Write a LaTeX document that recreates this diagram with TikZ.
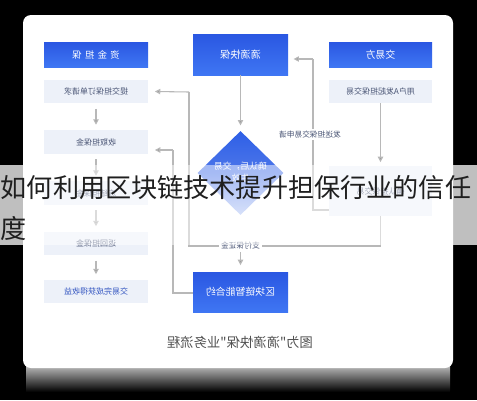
\documentclass[tikz,border=0pt]{standalone}
\usepackage{fontspec}
\usepackage{graphicx}
\newfontfamily\cjk{Noto Sans CJK SC}
\usetikzlibrary{arrows.meta,shapes.geometric}
\definecolor{hblue}{HTML}{2A57E2}
\definecolor{hblue2}{HTML}{3F76F3}
\definecolor{lbox}{HTML}{EDF1F9}
\definecolor{ltext}{HTML}{4A5575}
\definecolor{lnc}{HTML}{B8B8B8}
\definecolor{arrc}{HTML}{9C9C9C}
\definecolor{dblue}{HTML}{2E5FE6}
\definecolor{mblue}{HTML}{7A9BEE}
\definecolor{captc}{HTML}{505050}
\newcommand{\mir}[1]{\reflectbox{#1}}
\begin{document}
\begin{tikzpicture}[x=0.75pt,y=-0.75pt,
  hdr/.style={draw=none, top color=hblue, bottom color=hblue2, text=white,
    font=\cjk\fontsize{7}{8}\selectfont, inner sep=0pt},
  lbx/.style={draw=none, fill=lbox, text=ltext, minimum width=78pt,
    minimum height=17.5pt, font=\cjk\fontsize{6}{7}\selectfont, inner sep=0pt},
  conn/.style={draw=lnc, line width=0.8pt},
  arr/.style={draw=lnc, line width=0.8pt, -{Triangle[length=4pt,width=4pt,fill=arrc]}},
  elab/.style={fill=white, text=ltext, font=\cjk\fontsize{5.8}{7}\selectfont, inner sep=1.5pt}
]
% background and card
\fill[black] (0,0) rectangle (477,400);
\shade[top color=black!22, bottom color=black] (26,364) rectangle (450,392);
\fill[white, rounded corners=6pt] (23,15) rectangle (453,368);

% left column
\node[hdr, minimum width=78pt, minimum height=18.75pt] (lh) at (96,54.5)
  {\mir{资\hspace{2.5pt}金\hspace{2.5pt}担\hspace{2.5pt}保}};
\node[lbx] (l1) at (96,91.5) {\mir{提交担保订单请求}};
\node[lbx] (l2) at (96,142) {\mir{收取担保金}};
\node[lbx] (l3) at (96,193) {\mir{冻结担保金}};
\node[lbx] (l4) at (96,243.5) {\mir{返回担保金}};
\node[lbx, text=hblue!70!ltext] (l5) at (96,291.5) {\mir{交易完成获得收益}};
\foreach \a/\b in {l1/l2,l2/l3,l3/l4,l4/l5}{
  \draw[arr, shorten <=4pt, shorten >=4pt] (\a.south) -- (\b.north);
}

% middle column
\node[hdr, minimum width=71.25pt, minimum height=30.75pt, font=\cjk\fontsize{7.6}{9}\selectfont]
  (mh) at (240.5,54.5) {\mir{滴滴快保}};
\node[diamond, draw=none, minimum width=64.5pt, minimum height=63pt, inner sep=0pt,
  top color=dblue, bottom color=mblue!60, middle color=dblue!85!white]
  (dm) at (240.5,173) {};
\node[text=white, font=\cjk\fontsize{6.6}{8}\selectfont, align=center] (dmt) at (240.5,172)
  {\mir{\shortstack{确认后，交易\\生效}}};
\node[hdr, minimum width=71.25pt, minimum height=30pt, font=\cjk\fontsize{7.4}{9}\selectfont]
  (mb) at (240.5,292) {\mir{区块链智能合约}};

% right column
\node[hdr, minimum width=77.25pt, minimum height=18.75pt, font=\cjk\fontsize{7.4}{9}\selectfont]
  (rh) at (380.5,54.5) {\mir{交易方}};
\node[lbx, minimum width=77.25pt] (r1) at (380.5,91.5) {\mir{用户A发起担保交易}};
\node[lbx, minimum width=77.25pt, minimum height=37pt] (r2) at (380.5,191) {\mir{确认担保交易}};

% connectors
\coordinate (rdown) at (380.5,246);
\coordinate (rtc) at (313,210);
\coordinate (rtop) at (313,59);
\coordinate (lbot) at (189,246);
\coordinate (ltop) at (189,92);
\coordinate (pay) at (240.5,246);
\coordinate (cL) at (173,293);
\coordinate (cT) at (173,150);

\draw[arr] (r1.south) -- ([yshift=3pt]r2.north);
\draw[conn] (r2.south) -- (rdown) -- (lbot) -- (ltop);
\draw[arr] (ltop) -- ([xshift=5pt]l1.east);
\draw[conn] (r2.west |- rtc) -- (rtc) -- (rtop);
\draw[arr] (rtop) -- ([xshift=4pt]mh.east |- rtop);
\draw[arr] (mh.south) -- ([yshift=4pt]dm.north);
\draw[arr] (pay) -- ([yshift=5pt]mb.north);
\draw[conn] (mb.west |- cL) -- (cL) -- (cT);
\draw[arr] (cT) -- ([xshift=5pt]l2.east |- cT);

\node[elab] (lab1) at (310,134.5) {\mir{发送担保交易申请}};
\node[elab] (lab2) at (240.5,246) {\mir{支付保证金}};

% caption
\node[text=captc, font=\cjk\fontsize{10}{12}\selectfont] (cap) at (240,342)
  {\mir{图为"滴滴快保"业务流程}};

% overlay band and title
\fill[white, opacity=0.5] (0,165) rectangle (477,245);
\fill[white, opacity=0.5] (0,165) rectangle (23,245);
\fill[white, opacity=0.5] (453,165) rectangle (477,245);
\node[anchor=west, inner sep=0pt, text=black!88, font=\cjk\fontsize{19.6}{21}\selectfont]
  (t1) at (0.5,188) {如何利用区块链技术提升担保行业的信任};
\node[anchor=west, inner sep=0pt, text=black!88, font=\cjk\fontsize{19.6}{21}\selectfont]
  (t2) at (0.5,228) {度};
\end{tikzpicture}
\end{document}
